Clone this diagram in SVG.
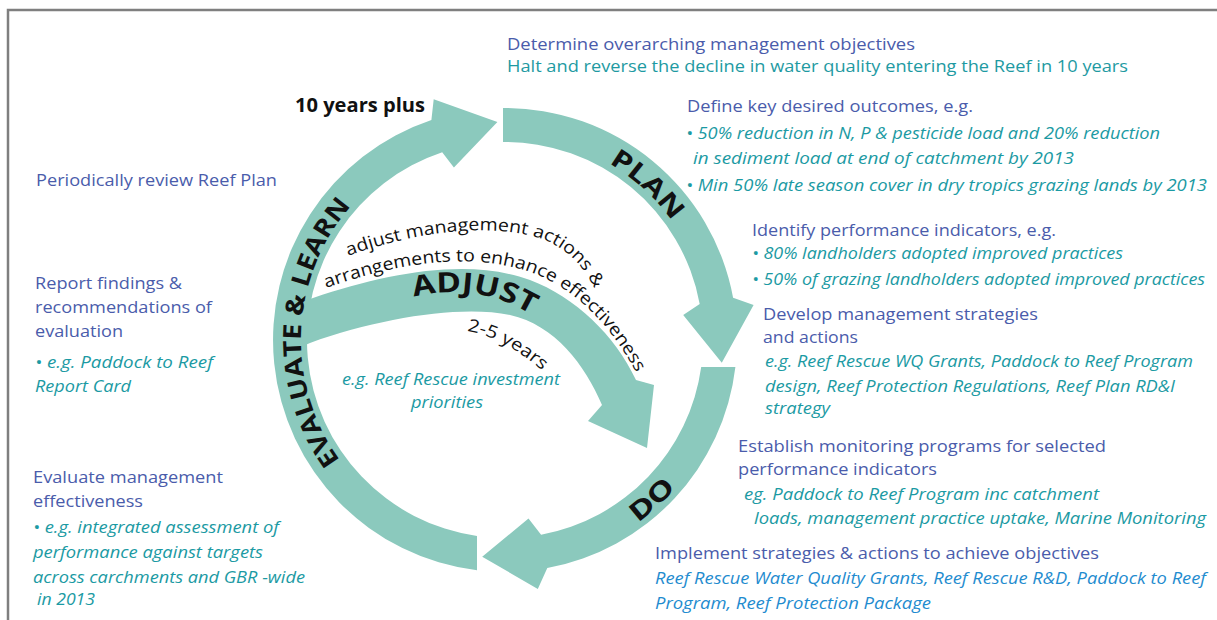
<svg xmlns="http://www.w3.org/2000/svg" xmlns:xlink="http://www.w3.org/1999/xlink" width="1217" height="620" viewBox="0 0 1217 620">
<style>
text{font-family:"Open Sans","Noto Sans","DejaVu Sans",sans-serif}
.h{font-size:17px;fill:#4a5cab}
.tr{font-size:17px;fill:#1e9aa2}
.t{font-size:16px;font-style:italic;fill:#1b9aa3}
.b{font-size:16px;font-style:italic;fill:#1f8ccf}
.k{fill:#111;font-size:17.5px}
.kb{fill:#111;font-weight:bold}
.band{fill:#8bc9bd}
</style>
<defs>
<path id="pEval" d="M 403,516.7 A 204 204 0 0 1 418.8,155.1"/>
<path id="pPlan" d="M 478.2,136.8 A 205 205 0 0 1 709.8,348.9"/>
<path id="pDo" d="M 475.9,564.1 A 226 226 0 0 0 730.8,329.7"/>
<path id="pAdj" d="M 414,297 C 450,288 495,289 540,320"/>
<path id="pL1" d="M 348,256 C 420,230 495,222 545,240 C 568,250 586,268 596,292"/>
<path id="pL2" d="M 326,288 C 400,262 470,252 530,272 C 575,288 612,325 640,380"/>
<path id="p25" d="M 467,331 C 492,335 518,349 545,373"/>
</defs>
<rect width="1217" height="620" fill="#fff"/>
<path d="M 8,620 L 8,10 L 1217,10" fill="none" stroke="#7f7f7f" stroke-width="2.5"/>

<g id="connectors">
<path id="arrow-plan" class="band" d="M 503,108 A 232 232 0 0 1 733.1,297.7 L 753.6,305.1 L 721.8,362.8 L 683.2,314.9 L 699.7,303.9 A 198 198 0 0 0 503,142 Z"/>
<path id="arrow-do" class="band" d="M 735.4,367 A 232 232 0 0 1 547.3,568.1 L 537.8,588.9 L 482.2,556.8 L 528.5,518.5 L 541.1,534.7 A 198 198 0 0 0 701.2,367 Z"/>
<path id="arrow-evaluate" class="band" d="M 477,570.3 A 232 232 0 0 1 431.4,120 L 433.7,99.3 L 497.4,122.1 L 453.9,167.4 L 442.2,152.2 A 198 198 0 0 0 477,536 Z"/>
<path id="arrow-adjust" class="band" d="M 296,304 L 313,298 C 390,272 470,258 530,280 C 575,297 615,335 636,380 L 654,385 L 647,448 L 588,421 L 602,405 C 585,365 555,325 510,315 C 460,305 380,318 310,343 L 296,349 Z"/>
</g>

<g id="stage-labels">
<text class="kb" font-size="25"><textPath xlink:href="#pEval" href="#pEval" startOffset="50%" text-anchor="middle" textLength="275" lengthAdjust="spacingAndGlyphs">EVALUATE &amp; LEARN</textPath></text>
<text class="kb" font-size="26"><textPath xlink:href="#pPlan" href="#pPlan" startOffset="50%" text-anchor="middle" textLength="86" lengthAdjust="spacingAndGlyphs">PLAN</textPath></text>
<text class="kb" font-size="26"><textPath xlink:href="#pDo" href="#pDo" startOffset="50%" text-anchor="middle" textLength="52" lengthAdjust="spacingAndGlyphs">DO</textPath></text>
<text class="kb" font-size="28"><textPath xlink:href="#pAdj" href="#pAdj" textLength="122" lengthAdjust="spacingAndGlyphs">ADJUST</textPath></text>
<text class="k"><textPath xlink:href="#pL1" href="#pL1" textLength="272" lengthAdjust="spacingAndGlyphs">adjust management actions &amp;</textPath></text>
<text class="k"><textPath xlink:href="#pL2" href="#pL2" textLength="358" lengthAdjust="spacingAndGlyphs">arrangements to enhance effectiveness</textPath></text>
<text class="k"><textPath xlink:href="#p25" href="#p25" textLength="86" lengthAdjust="spacingAndGlyphs">2-5 years</textPath></text>
<text class="kb" x="295" y="112" font-size="19" textLength="130" lengthAdjust="spacingAndGlyphs">10 years plus</text>
</g>

<g id="node-adjust-example">
<text class="t" x="342" y="385" textLength="218" lengthAdjust="spacingAndGlyphs">e.g. Reef Rescue investment</text>
<text class="t" x="411" y="408" textLength="72" lengthAdjust="spacingAndGlyphs">priorities</text>
</g>

<g id="node-objectives">
<text class="h" x="507" y="50" textLength="408" lengthAdjust="spacingAndGlyphs">Determine overarching management objectives</text>
<text class="tr" x="507" y="72" textLength="621" lengthAdjust="spacingAndGlyphs">Halt and reverse the decline in water quality entering the Reef in 10 years</text>
</g>

<g id="node-outcomes">
<text class="h" x="687" y="112" textLength="286" lengthAdjust="spacingAndGlyphs">Define key desired outcomes, e.g.</text>
<text class="t" x="686" y="139" textLength="474" lengthAdjust="spacingAndGlyphs">• 50% reduction in N, P &amp; pesticide load and 20% reduction</text>
<text class="t" x="693" y="164" textLength="381" lengthAdjust="spacingAndGlyphs">in sediment load at end of  catchment by 2013</text>
<text class="t" x="686" y="191" textLength="521" lengthAdjust="spacingAndGlyphs">• Min 50% late season  cover in dry tropics grazing lands by 2013</text>
</g>

<g id="node-indicators">
<text class="h" x="752" y="236" textLength="304" lengthAdjust="spacingAndGlyphs">Identify performance indicators, e.g.</text>
<text class="t" x="752" y="259" textLength="371" lengthAdjust="spacingAndGlyphs">•  80% landholders adopted improved practices</text>
<text class="t" x="752" y="285" textLength="453" lengthAdjust="spacingAndGlyphs">• 50% of grazing landholders adopted improved practices</text>
</g>

<g id="node-strategies">
<text class="h" x="763" y="320" textLength="275" lengthAdjust="spacingAndGlyphs">Develop management strategies</text>
<text class="h" x="763" y="343" textLength="95" lengthAdjust="spacingAndGlyphs">and actions</text>
<text class="t" x="765" y="367" textLength="428" lengthAdjust="spacingAndGlyphs">e.g. Reef Rescue WQ Grants, Paddock to Reef Program</text>
<text class="t" x="765" y="392" textLength="410" lengthAdjust="spacingAndGlyphs">design, Reef Protection Regulations, Reef Plan RD&amp;I</text>
<text class="t" x="765" y="414" textLength="65" lengthAdjust="spacingAndGlyphs">strategy</text>
</g>

<g id="node-monitoring">
<text class="h" x="738" y="452" textLength="368" lengthAdjust="spacingAndGlyphs">Establish monitoring programs for selected</text>
<text class="h" x="738" y="475" textLength="199" lengthAdjust="spacingAndGlyphs">performance indicators</text>
<text class="t" x="744" y="500" textLength="355" lengthAdjust="spacingAndGlyphs">eg. Paddock to Reef Program inc catchment</text>
<text class="t" x="754" y="524" textLength="452" lengthAdjust="spacingAndGlyphs">loads, management practice uptake, Marine Monitoring</text>
</g>

<g id="node-implement">
<text class="h" x="655" y="559" textLength="444" lengthAdjust="spacingAndGlyphs">Implement strategies &amp; actions to achieve objectives</text>
<text class="b" x="655" y="584" textLength="551" lengthAdjust="spacingAndGlyphs">Reef Rescue Water Quality Grants, Reef Rescue R&amp;D, Paddock to Reef</text>
<text class="b" x="655" y="609" textLength="276" lengthAdjust="spacingAndGlyphs">Program, Reef Protection Package</text>
</g>

<g id="node-review">
<text class="h" x="36" y="186" textLength="241" lengthAdjust="spacingAndGlyphs">Periodically review Reef Plan</text>
</g>

<g id="node-report">
<text class="h" x="35" y="289" textLength="147" lengthAdjust="spacingAndGlyphs">Report findings &amp;</text>
<text class="h" x="35" y="313" textLength="177" lengthAdjust="spacingAndGlyphs">recommendations of</text>
<text class="h" x="35" y="337" textLength="88" lengthAdjust="spacingAndGlyphs">evaluation</text>
<text class="t" x="35" y="368" textLength="178" lengthAdjust="spacingAndGlyphs">•  e.g.  Paddock to Reef</text>
<text class="t" x="35" y="392" textLength="96" lengthAdjust="spacingAndGlyphs">Report Card</text>
</g>

<g id="node-evaluate">
<text class="h" x="33" y="483" textLength="190" lengthAdjust="spacingAndGlyphs">Evaluate management</text>
<text class="h" x="33" y="507" textLength="110" lengthAdjust="spacingAndGlyphs">effectiveness</text>
<text class="t" x="33" y="533" textLength="246" lengthAdjust="spacingAndGlyphs">•  e.g. integrated assessment of</text>
<text class="t" x="33" y="558" textLength="230" lengthAdjust="spacingAndGlyphs">performance against targets</text>
<text class="t" x="33" y="583" textLength="272" lengthAdjust="spacingAndGlyphs">across carchments and GBR -wide</text>
<text class="t" x="37" y="605" textLength="58" lengthAdjust="spacingAndGlyphs">in 2013</text>
</g>
</svg>
